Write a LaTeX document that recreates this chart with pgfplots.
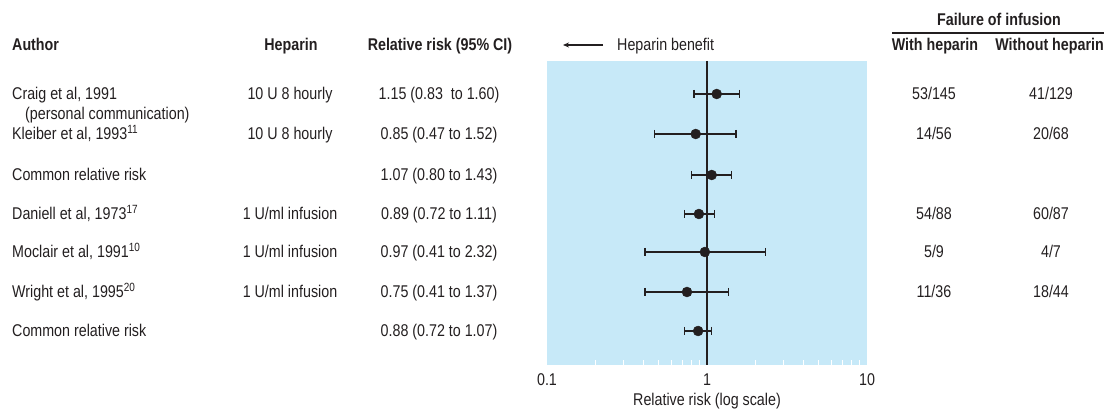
\documentclass[border=0pt]{standalone}
\usepackage{fontspec}
\setmainfont{Liberation Sans}[FakeStretch=0.84]
\usepackage{pgfplots}
\pgfplotsset{compat=1.18}
\usetikzlibrary{arrows.meta}
\definecolor{bgblue}{RGB}{199,233,248}
\definecolor{ink}{RGB}{35,31,32}
\newcommand\fs{\fontsize{17}{20}\selectfont}
\begin{document}
\begin{tikzpicture}[x=1pt,y=1pt, t/.style={inner sep=0pt, font=\fs, text=ink}]
\useasboundingbox (0,0) rectangle (1104,411);
\begin{axis}[at={(547pt,46pt)}, anchor=south west, scale only axis,
  width=320pt, height=304pt,
  xmode=log, xmin=0.1, xmax=10, ymin=61, ymax=365, y dir=reverse,
  axis background/.style={fill=bgblue, draw=none},
  axis line style={draw=none},
  ytick=\empty,
  xtick={0.1,1,10}, xticklabels={0.1,1,10},
  minor xtick={0.2,0.3,0.4,0.5,0.6,0.7,0.8,0.9,2,3,4,5,6,7,8,9},
  xtick pos=bottom, tick align=inside,
  major tick length=0pt, minor tick length=5pt,
  minor tick style={white, line width=1.2pt},
  xticklabel style={font=\fs, text=ink, anchor=base, yshift=-21pt, inner sep=0pt},
  clip=false]
\addplot[ink, line width=1.4pt] coordinates {(1,61) (1,365)};
% 95% CI bars
\pgfplotsset{cistyle/.style={ink, line width=1.2pt, mark=|, mark size=4pt, mark options={solid, line width=1.2pt}}}
\addplot[cistyle] coordinates {(0.83,94) (1.60,94)};
\addplot[cistyle] coordinates {(0.47,134) (1.52,134)};
\addplot[cistyle] coordinates {(0.80,175) (1.43,175)};
\addplot[cistyle] coordinates {(0.72,214) (1.11,214)};
\addplot[cistyle] coordinates {(0.41,252) (2.32,252)};
\addplot[cistyle] coordinates {(0.41,292) (1.37,292)};
\addplot[cistyle] coordinates {(0.72,331) (1.07,331)};
% point estimates
\addplot[only marks, mark=*, mark size=5pt, ink, mark options={fill=ink, draw=ink}]
  coordinates {(1.15,94) (0.85,134) (1.07,175) (0.89,214) (0.97,252) (0.75,292) (0.88,331)};
\end{axis}
% headers
\node[t, anchor=base west] at (12,360) {\bfseries Author};
\node[t, anchor=base] at (291,360) {\bfseries Heparin};
\node[t, anchor=base] at (440,360) {\bfseries Relative risk (95\% CI)};
\draw[ink, line width=1.2pt, -{Stealth[length=6pt,width=5pt]}] (603,366) -- (563,366);
\node[t, anchor=base west] at (617,360) {Heparin benefit};
\node[t, anchor=base] at (999,385) {\bfseries Failure of infusion};
\draw[ink, line width=1.2pt] (892,378) -- (1104,378);
\node[t, anchor=base] at (935,360) {\bfseries With heparin};
\node[t, anchor=base east] at (1104,360) {\bfseries Without heparin};
% author column
\node[t, anchor=base west] at (12,311) {Craig et al, 1991};
\node[t, anchor=base west] at (25,291) {(personal communication)};
\node[t, anchor=base west] at (12,271) {Kleiber et al, 1993\textsuperscript{11}};
\node[t, anchor=base west] at (12,230) {Common relative risk};
\node[t, anchor=base west] at (12,191) {Daniell et al, 1973\textsuperscript{17}};
\node[t, anchor=base west] at (12,153) {Moclair et al, 1991\textsuperscript{10}};
\node[t, anchor=base west] at (12,113) {Wright et al, 1995\textsuperscript{20}};
\node[t, anchor=base west] at (12,74) {Common relative risk};
% heparin column
\node[t, anchor=base] at (290,311) {10 U 8 hourly};
\node[t, anchor=base] at (290,271) {10 U 8 hourly};
\node[t, anchor=base] at (290,191) {1 U/ml infusion};
\node[t, anchor=base] at (290,153) {1 U/ml infusion};
\node[t, anchor=base] at (290,113) {1 U/ml infusion};
% RR column
\node[t, anchor=base] at (439,311) {1.15 (0.83\ \ to 1.60)};
\node[t, anchor=base] at (439,271) {0.85 (0.47 to 1.52)};
\node[t, anchor=base] at (439,230) {1.07 (0.80 to 1.43)};
\node[t, anchor=base] at (439,191) {0.89 (0.72 to 1.11)};
\node[t, anchor=base] at (439,153) {0.97 (0.41 to 2.32)};
\node[t, anchor=base] at (439,113) {0.75 (0.41 to 1.37)};
\node[t, anchor=base] at (439,74) {0.88 (0.72 to 1.07)};
% failure columns
\node[t, anchor=base] at (934,311) {53/145};
\node[t, anchor=base] at (1051,311) {41/129};
\node[t, anchor=base] at (934,271) {14/56};
\node[t, anchor=base] at (1051,271) {20/68};
\node[t, anchor=base] at (934,191) {54/88};
\node[t, anchor=base] at (1051,191) {60/87};
\node[t, anchor=base] at (934,153) {5/9};
\node[t, anchor=base] at (1051,153) {4/7};
\node[t, anchor=base] at (934,113) {11/36};
\node[t, anchor=base] at (1051,113) {18/44};
% x label
\node[t, anchor=base] at (707,5) {Relative risk (log scale)};
\end{tikzpicture}
\end{document}
